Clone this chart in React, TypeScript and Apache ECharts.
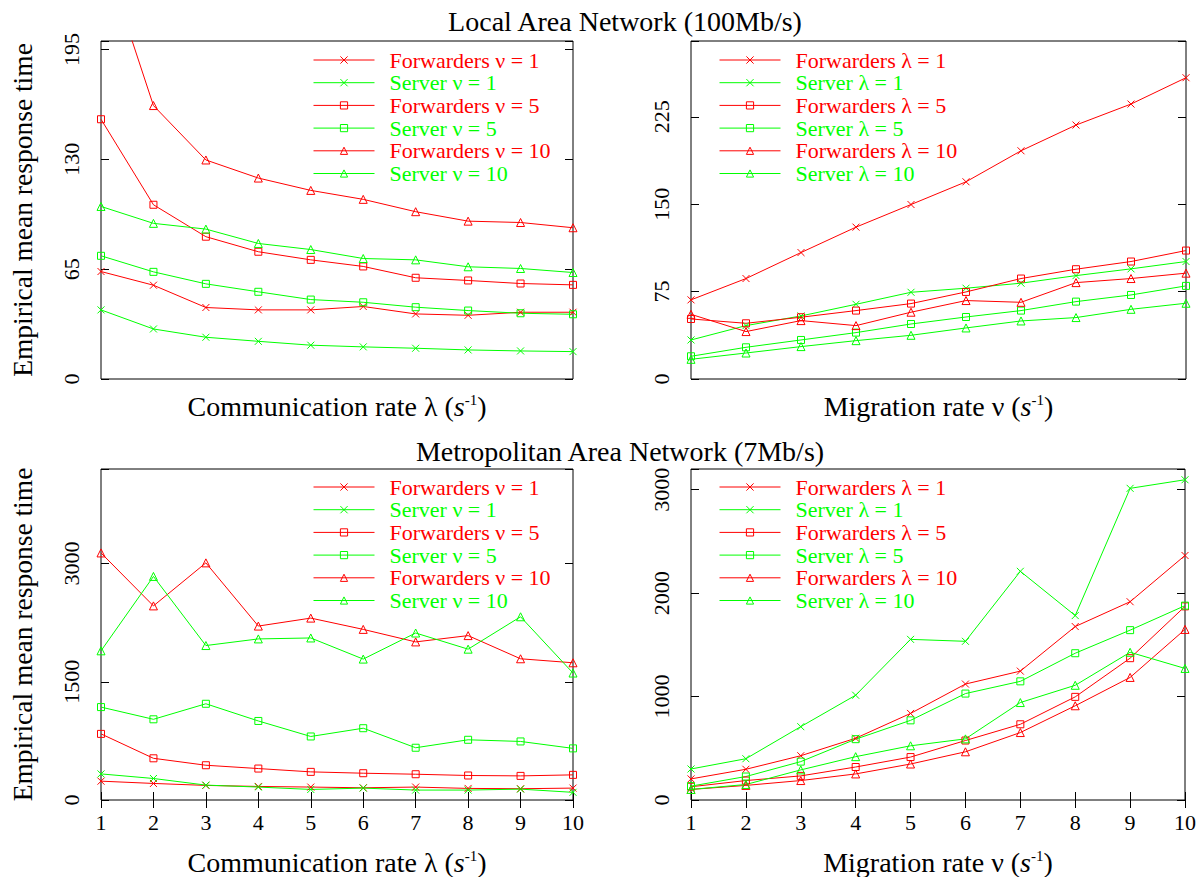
import React, { useEffect, useRef } from "react";
import * as echarts from "echarts";

const categories = ["1", "2", "3", "4", "5", "6", "7", "8", "9", "10"];

// LAN, vs communication rate λ
const lanFwdNu1 = [63.6, 55.5, 42.3, 40.9, 40.9, 42.9, 38.5, 37.7, 39.5, 39.5];
const lanSrvNu1 = [40.9, 29.6, 24.7, 22.3, 20.0, 19.0, 18.2, 17.2, 16.6, 16.2];
const lanFwdNu5 = [153.7, 103.1, 84.2, 75.3, 70.5, 66.6, 59.9, 58.3, 56.5, 55.7];
const lanSrvNu5 = [72.9, 63.4, 56.3, 51.6, 47.0, 45.4, 42.5, 40.5, 38.9, 38.3];
const lanFwdNu10 = [256, 161.8, 129.6, 118.9, 111.6, 106.3, 99.0, 93.4, 92.6, 89.5];
const lanSrvNu10 = [102.1, 92.1, 88.7, 80.2, 76.6, 71.3, 70.5, 66.4, 65.4, 63.0];

// LAN, vs migration rate ν
const lanFwdL1 = [67.9, 86.2, 108.5, 130.3, 149.7, 169.2, 195.8, 217.9, 235.9, 258.5];
const lanSrvL1 = [33.5, 45.8, 54.1, 64.1, 74.4, 77.9, 82.2, 88.7, 94.5, 100.8];
const lanFwdL5 = [51.5, 47.8, 53.0, 58.7, 64.7, 74.7, 86.2, 94.2, 100.8, 110.2];
const lanSrvL5 = [19.5, 27.2, 33.5, 39.8, 47.2, 53.2, 58.7, 66.4, 72.1, 79.9];
const lanFwdL10 = [55.5, 40.7, 50.1, 45.8, 57.3, 67.3, 65.8, 82.7, 86.2, 90.8];
const lanSrvL10 = [16.9, 22.3, 27.8, 32.9, 37.5, 43.8, 49.8, 52.7, 59.8, 65.0];

// MAN, vs communication rate λ
const manFwdNu1 = [239, 210, 185, 172, 164, 155, 164, 147, 143, 151];
const manSrvNu1 = [331, 273, 189, 164, 134, 151, 126, 126, 138, 97];
const manFwdNu5 = [839, 529, 441, 399, 357, 340, 327, 311, 306, 319];
const manSrvNu5 = [1179, 1024, 1221, 1003, 806, 911, 663, 764, 743, 655];
const manFwdNu10 = [3135, 2463, 3009, 2207, 2308, 2165, 2006, 2086, 1792, 1741];
const manSrvNu10 = [1893, 2837, 1960, 2044, 2056, 1788, 2119, 1914, 2325, 1611];

// MAN, vs migration rate ν
const manFwdL1 = [204, 297, 428, 597, 837, 1121, 1246, 1677, 1917, 2364];
const manSrvL1 = [300, 399, 709, 1013, 1553, 1534, 2211, 1783, 3013, 3096];
const manFwdL5 = [128, 188, 233, 319, 415, 575, 732, 997, 1371, 1872];
const manSrvL5 = [134, 227, 371, 588, 770, 1029, 1147, 1419, 1642, 1879];
const manFwdL10 = [102, 141, 188, 252, 348, 466, 652, 911, 1185, 1649];
const manSrvL10 = [102, 150, 291, 419, 524, 591, 942, 1109, 1428, 1272];

const nuNames = [
  "Forwarders ν = 1",
  "Server ν = 1",
  "Forwarders ν = 5",
  "Server ν = 5",
  "Forwarders ν = 10",
  "Server ν = 10",
];
const lamNames = [
  "Forwarders λ = 1",
  "Server λ = 1",
  "Forwarders λ = 5",
  "Server λ = 5",
  "Forwarders λ = 10",
  "Server λ = 10",
];

const yMax = [200, 290, 4200, 3200];
const yInterval = [65, 75, 1500, 1000];

const RED = "#ff0000";
const GREEN = "#00ff00";
const FONT = '"Liberation Serif", "Times New Roman", serif';
const CROSS = "path://M0,0L10,10M10,0L0,10";
const colorsOf = [RED, GREEN, RED, GREEN, RED, GREEN];
const symbolsOf = [CROSS, CROSS, "rect", "rect", "triangle", "triangle"];
const sizesOf = [7, 7, 7, 7, 8, 8];

const grids = [
  { left: 101, top: 41, width: 472, height: 338 },
  { left: 691, top: 41, width: 495, height: 338 },
  { left: 101, top: 469, width: 472, height: 333 },
  { left: 691, top: 469, width: 495, height: 333 },
];

export default function App() {
  const ref = useRef<HTMLDivElement>(null);
  useEffect(() => {
    if (!ref.current) return;
    const chart = echarts.init(ref.current, undefined, { renderer: "svg" });

    const groups = [
      [lanFwdNu1, lanSrvNu1, lanFwdNu5, lanSrvNu5, lanFwdNu10, lanSrvNu10],
      [lanFwdL1, lanSrvL1, lanFwdL5, lanSrvL5, lanFwdL10, lanSrvL10],
      [manFwdNu1, manSrvNu1, manFwdNu5, manSrvNu5, manFwdNu10, manSrvNu10],
      [manFwdL1, manSrvL1, manFwdL5, manSrvL5, manFwdL10, manSrvL10],
    ];
    const namesFor = [nuNames, lamNames, nuNames, lamNames];

    const series: any[] = [];
    groups.forEach((g, gi) => {
      g.forEach((d, i) => {
        series.push({
          type: "line",
          name: namesFor[gi][i],
          data: d,
          xAxisIndex: gi,
          yAxisIndex: gi,
          symbol: symbolsOf[i],
          symbolSize: sizesOf[i],
          showAllSymbol: true,
          clip: true,
          lineStyle: { color: colorsOf[i], width: 1 },
          itemStyle: { color: "rgba(0,0,0,0)", borderColor: colorsOf[i], borderWidth: 1 },
          emphasis: { disabled: true },
        });
      });
    });

    const xName = (txt: string) => `${txt} ({it|s}{sup|-1})`;
    const nameRich = {
      it: { fontStyle: "italic", fontSize: 28, fontFamily: FONT, color: "#000" },
      sup: { fontSize: 15, fontFamily: FONT, color: "#000", verticalAlign: "top", padding: [0, 0, 10, 0] },
    };

    const xAxes: any[] = [];
    for (let gi = 0; gi < 4; gi++) {
      const bottomRow = gi >= 2;
      xAxes.push({
        type: "category",
        gridIndex: gi,
        data: categories,
        boundaryGap: false,
        position: "bottom",
        axisLine: { show: false },
        axisTick: { show: bottomRow, inside: true, length: 8, interval: 0, lineStyle: { color: "#000" } },
        axisLabel: { show: bottomRow, interval: 0, fontSize: 22, fontFamily: FONT, color: "#000", margin: 11 },
        splitLine: { show: false },
        name: xName(gi % 2 === 0 ? "Communication rate λ" : "Migration rate ν"),
        nameLocation: "middle",
        nameGap: bottomRow ? 48 : 13,
        nameTextStyle: { fontSize: 28, fontFamily: FONT, color: "#000", rich: nameRich },
      });
    }
    for (let gi = 2; gi < 4; gi++) {
      xAxes.push({
        type: "category",
        gridIndex: gi,
        data: categories,
        boundaryGap: false,
        position: "top",
        axisLine: { show: false },
        axisTick: { show: true, inside: true, length: 8, interval: 0, lineStyle: { color: "#000" } },
        axisLabel: { show: false },
        splitLine: { show: false },
      });
    }

    const yAxes: any[] = [];
    for (let gi = 0; gi < 4; gi++) {
      const iv = yInterval[gi];
      yAxes.push({
        type: "value",
        gridIndex: gi,
        min: 0,
        max: yMax[gi],
        interval: iv,
        position: "left",
        axisLine: { show: false },
        axisTick: { show: true, inside: true, length: 8, lineStyle: { color: "#000" } },
        axisLabel: {
          rotate: 90,
          fontSize: 22,
          fontFamily: FONT,
          color: "#000",
          margin: 19,
          formatter: (v: number) => (v % iv === 0 ? String(v) : ""),
        },
        splitLine: { show: false },
        name: gi % 2 === 0 ? "Empirical mean response time" : "",
        nameLocation: "middle",
        nameRotate: 90,
        nameGap: 65,
        nameTextStyle: { fontSize: 27.5, fontFamily: FONT, color: "#000" },
      });
    }
    for (let gi = 0; gi < 4; gi++) {
      yAxes.push({
        type: "value",
        gridIndex: gi,
        min: 0,
        max: yMax[gi],
        interval: yInterval[gi],
        position: "right",
        axisLine: { show: false },
        axisTick: { show: true, inside: true, length: 8, lineStyle: { color: "#000" } },
        axisLabel: { show: false },
        splitLine: { show: false },
      });
    }

    const legendPos = [
      { left: 313, top: 49 },
      { left: 719, top: 49 },
      { left: 313, top: 476 },
      { left: 719, top: 476 },
    ];
    const legends = legendPos.map((p, gi) => ({
      show: true,
      orient: "vertical",
      left: p.left,
      top: p.top,
      padding: 0,
      itemGap: 0.7,
      itemWidth: 61,
      itemHeight: 9,
      selectedMode: false,
      textStyle: { fontSize: 22, fontFamily: FONT, lineHeight: 22, padding: [0, 0, 0, 10] },
      data: namesFor[gi].map((n, i) => ({
        name: n,
        textStyle: { color: colorsOf[i] },
        lineStyle: { color: colorsOf[i], width: 1 },
        itemStyle: { color: "rgba(0,0,0,0)", borderColor: colorsOf[i], borderWidth: 1 },
      })),
    }));

    chart.setOption({
      animation: false,
      backgroundColor: "#ffffff",
      grid: grids.map((g) => ({ ...g, show: true, borderColor: "#000", borderWidth: 1, backgroundColor: "transparent", containLabel: false })),
      xAxis: xAxes,
      yAxis: yAxes,
      legend: legends,
      series,
      graphic: [
        {
          type: "text",
          x: 625,
          y: 21,
          style: { text: "Local Area Network (100Mb/s)", font: `28px ${FONT}`, fill: "#000", textAlign: "center", textVerticalAlign: "middle" },
        },
        {
          type: "text",
          x: 620,
          y: 451,
          style: { text: "Metropolitan Area Network (7Mb/s)", font: `28px ${FONT}`, fill: "#000", textAlign: "center", textVerticalAlign: "middle" },
        },
      ],
    });
    return () => chart.dispose();
  }, []);
  return <div ref={ref} style={{ position: "fixed", left: 0, top: 0, width: 1199, height: 877, background: "#fff" }} />;
}
